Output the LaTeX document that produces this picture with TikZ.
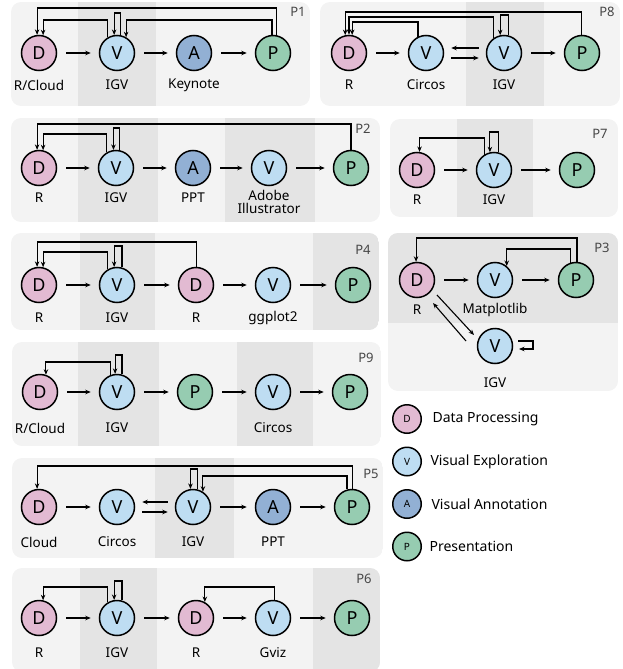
\documentclass[tikz,border=0pt]{standalone}
\usepackage{fontspec}
\setmainfont{Noto Sans}
\usetikzlibrary{arrows.meta,positioning,calc}
\definecolor{DataPink}{RGB}{226,186,210}
\definecolor{ExploreBlue}{RGB}{190,221,242}
\definecolor{AnnotBlue}{RGB}{146,176,212}
\definecolor{PresGreen}{RGB}{150,204,177}
\definecolor{PanelGray}{RGB}{243,243,243}
\definecolor{BandGray}{RGB}{228,228,228}
\definecolor{TagGray}{RGB}{70,70,70}
\tikzset{
  stage/.style={circle,draw=black,line width=1.5pt,minimum size=35pt,inner sep=0pt,font=\fontsize{18}{18}\selectfont},
  dstage/.style={stage,fill=DataPink},
  vstage/.style={stage,fill=ExploreBlue},
  astage/.style={stage,fill=AnnotBlue},
  pstage/.style={stage,fill=PresGreen},
  tool/.style={font=\fontsize{13.5}{15}\selectfont,align=center},
  tag/.style={font=\fontsize{13}{13}\selectfont,text=TagGray},
  flow/.style={-{Stealth[length=5.5pt,width=4.5pt]},line width=1.1pt,shorten <=9pt,shorten >=8pt},
  fb/.style={-{Stealth[length=5.5pt,width=4.5pt]},line width=1.1pt},
  pair/.style={fb,shorten <=7pt,shorten >=7pt},
  legstage/.style={circle,draw=black,line width=1.5pt,minimum size=28.5pt,inner sep=0pt,font=\fontsize{10}{10}\selectfont},
  legtext/.style={anchor=west,font=\fontsize{14}{16}\selectfont},
  panelbg/.style={fill=PanelGray},
  band/.style={fill=BandGray}
}
\begin{document}
\begin{tikzpicture}[x=1pt,y=-1pt]
\useasboundingbox (0,0) rectangle (623,669);

\begin{scope}
\clip[rounded corners=10] (11,2) rectangle (310,106);
\fill[panelbg] (11,2) rectangle (310,106);
\fill[band] (78,2) rectangle (156,106);
\end{scope}
\node[tag] (p1tag) at (298,12) {P1};
\node[dstage] (p1D) at (39,53) {D};
\node[vstage] (p1V) at (117,53) {V};
\node[astage] (p1A) at (194,53) {A};
\node[pstage] (p1P) at (273,53) {P};
\node[tool] (p1Dt) at (39,85) {R/Cloud};
\node[tool] (p1Vt) at (117,85) {IGV};
\node[tool] (p1At) at (194,85) {Keynote};
\draw[flow] (p1D)--(p1V);\draw[flow] (p1V)--(p1A);\draw[flow] (p1A)--(p1P);
\coordinate (p1hi) at (0,8);
\coordinate (p1self) at (0,13);
\coordinate (p1lo) at (0,20);
\draw[fb] (p1P.80) -- (p1P.80 |- p1hi) -| (p1D.96);
\draw[fb] (p1V.121) -- (p1V.121 |- p1lo) -| (p1D.77);
\draw[fb] (p1V.80) -- (p1V.80 |- p1self) -| (p1V.99);
\draw[fb] (p1P.93) -- (p1P.93 |- p1lo) -| (p1V.60);

\begin{scope}
\clip[rounded corners=10] (320,2) rectangle (620,106);
\fill[panelbg] (320,2) rectangle (620,106);
\fill[band] (466,2) rectangle (544,106);
\end{scope}
\node[tag] (p8tag) at (607,12) {P8};
\node[dstage] (p8D) at (349,53) {D};
\node[vstage] (p8Va) at (426,53) {V};
\node[vstage] (p8Vb) at (504,53) {V};
\node[pstage] (p8P) at (582,53) {P};
\node[tool] (p8Dt) at (349,85) {R};
\node[tool] (p8Vat) at (426,85) {Circos};
\node[tool] (p8Vbt) at (504,85) {IGV};
\draw[flow] (p8D)--(p8Va);\draw[flow] (p8Vb)--(p8P);
\draw[pair] ([yshift=5pt]p8Vb.west) -- ([yshift=5pt]p8Va.east);
\draw[pair] ([yshift=-5pt]p8Va.east) -- ([yshift=-5pt]p8Vb.west);
\coordinate (p8hi) at (0,12);
\coordinate (p8self) at (0,15);
\coordinate (p8mid) at (0,17);
\coordinate (p8lo) at (0,22);
\draw[fb] (p8P.93) -- (p8P.93 |- p8hi) -| (p8D.102);
\draw[fb] (p8Vb.126) -- (p8Vb.126 |- p8mid) -| (p8D.90);
\draw[fb] (p8Va.116) -- (p8Va.116 |- p8lo) -| (p8D.80);
\draw[fb] (p8Vb.77) -- (p8Vb.77 |- p8self) -| (p8Vb.102);

\begin{scope}
\clip[rounded corners=10] (11,118) rectangle (380,222);
\fill[panelbg] (11,118) rectangle (380,222);
\fill[band] (78,118) rectangle (158,222);
\fill[band] (225,118) rectangle (315,222);
\end{scope}
\node[tag] (p2tag) at (363,129) {P2};
\node[dstage] (p2D) at (39,168) {D};
\node[vstage] (p2Va) at (116,168) {V};
\node[astage] (p2A) at (193,168) {A};
\node[vstage] (p2Vb) at (269,168) {V};
\node[pstage] (p2P) at (351,168) {P};
\node[tool] (p2Dt) at (39,198) {R};
\node[tool] (p2Vat) at (116,198) {IGV};
\node[tool] (p2At) at (193,198) {PPT};
\node[tool,font=\fontsize{13.5}{13.5}\selectfont] (p2Vbt) at (269,202) {Adobe\\Illustrator};
\draw[flow] (p2D)--(p2Va);\draw[flow] (p2Va)--(p2A);\draw[flow] (p2A)--(p2Vb);\draw[flow] (p2Vb)--(p2P);
\coordinate (p2hi) at (0,124);
\coordinate (p2self) at (0,128);
\coordinate (p2lo) at (0,134);
\draw[fb] (p2P.90) -- (p2P.90 |- p2hi) -| (p2D.96);
\draw[fb] (p2Va.120) -- (p2Va.120 |- p2lo) -| (p2D.77);
\draw[fb] (p2Va.79) -- (p2Va.79 |- p2self) -| (p2Va.98);

\begin{scope}
\clip[rounded corners=10] (390,119) rectangle (618,217);
\fill[panelbg] (390,119) rectangle (618,217);
\fill[band] (457,119) rectangle (533,217);
\end{scope}
\node[tag] (p7tag) at (600,134) {P7};
\node[dstage] (p7D) at (417,170) {D};
\node[vstage] (p7V) at (494,170) {V};
\node[pstage] (p7P) at (577,170) {P};
\node[tool] (p7Dt) at (417,200) {R};
\node[tool] (p7Vt) at (494,200) {IGV};
\draw[flow] (p7D)--(p7V);\draw[flow] (p7V)--(p7P);
\coordinate (p7self) at (0,132);
\coordinate (p7lo) at (0,138);
\draw[fb] (p7V.123) -- (p7V.123 |- p7lo) -| (p7D.82);
\draw[fb] (p7V.76) -- (p7V.76 |- p7self) -| (p7V.103);

\begin{scope}
\clip[rounded corners=10] (11,233) rectangle (379,330);
\fill[panelbg] (11,233) rectangle (379,330);
\fill[band] (80,233) rectangle (155,330);
\fill[band] (313,233) rectangle (379,330);
\end{scope}
\node[tag] (p4tag) at (363,250) {P4};
\node[dstage] (p4Da) at (39,285) {D};
\node[vstage] (p4Va) at (117,285) {V};
\node[dstage] (p4Db) at (196,285) {D};
\node[vstage] (p4Vb) at (273,285) {V};
\node[pstage] (p4P) at (353,285) {P};
\node[tool] (p4Dat) at (39,318) {R};
\node[tool] (p4Vat) at (117,318) {IGV};
\node[tool] (p4Dbt) at (196,318) {R};
\node[tool] (p4Vbt) at (273,318) {ggplot2};
\draw[flow] (p4Da)--(p4Va);\draw[flow] (p4Va)--(p4Db);\draw[flow] (p4Db)--(p4Vb);\draw[flow] (p4Vb)--(p4P);
\coordinate (p4hi) at (0,242);
\coordinate (p4self) at (0,246);
\coordinate (p4lo) at (0,252);
\draw[fb] (p4Db.88) -- (p4Db.88 |- p4hi) -| (p4Da.96);
\draw[fb] (p4Va.121) -- (p4Va.121 |- p4lo) -| (p4Da.77);
\draw[fb] (p4Va.74) -- (p4Va.74 |- p4self) -| (p4Va.99);

\begin{scope}
\clip[rounded corners=10] (388,233) rectangle (618,391);
\fill[panelbg] (388,233) rectangle (618,391);
\fill[band] (388,233) rectangle (618,323);
\end{scope}
\node[tag] (p3tag) at (602,248) {P3};
\node[dstage] (p3D) at (417,280) {D};
\node[vstage] (p3Va) at (495,280) {V};
\node[pstage] (p3P) at (576,280) {P};
\node[vstage] (p3Vb) at (495,346) {V};
\node[tool] (p3Dt) at (417,310) {R};
\node[tool] (p3Vat) at (495,310) {Matplotlib};
\node[tool] (p3Vbt) at (495,383) {IGV};
\draw[flow] (p3D)--(p3Va);\draw[flow] (p3Va)--(p3P);
\coordinate (p3hi) at (0,238);
\coordinate (p3lo) at (0,249);
\draw[fb] (p3P.87) -- (p3P.87 |- p3hi) -| (p3D.93);
\draw[fb] (p3P.109) -- (p3P.109 |- p3lo) -| (p3Va.50);
\draw[fb] ([shift={(20,15)}]p3D.center) -- ([shift={(-21,-11)}]p3Vb.center);
\draw[fb] ([shift={(-29,-5)}]p3Vb.center) -- ([shift={(16,23)}]p3D.center);
\draw[fb] ([shift={(23,-5)}]p3Vb.center) -- ++(15,0) -- ++(0,8) -- ++(-14,0);

\begin{scope}
\clip[rounded corners=10] (12,342) rectangle (381,446);
\fill[panelbg] (12,342) rectangle (381,446);
\fill[band] (78,342) rectangle (159,446);
\fill[band] (237,342) rectangle (313,446);
\end{scope}
\node[tag] (p9tag) at (366,358) {P9};
\node[dstage] (p9D) at (40,392) {D};
\node[vstage] (p9Va) at (117,392) {V};
\node[pstage] (p9Pa) at (195,392) {P};
\node[vstage] (p9Vb) at (273,392) {V};
\node[pstage] (p9Pb) at (350,392) {P};
\node[tool] (p9Dt) at (40,428) {R/Cloud};
\node[tool] (p9Vat) at (117,428) {IGV};
\node[tool] (p9Vbt) at (273,428) {Circos};
\draw[flow] (p9D)--(p9Va);\draw[flow] (p9Va)--(p9Pa);\draw[flow] (p9Pa)--(p9Vb);\draw[flow] (p9Vb)--(p9Pb);
\coordinate (p9self) at (0,355);
\coordinate (p9lo) at (0,362);
\draw[fb] (p9Va.112) -- (p9Va.112 |- p9lo) -| (p9D.71);
\draw[fb] (p9Va.74) -- (p9Va.74 |- p9self) -| (p9Va.96);

\node[legstage,fill=DataPink] (legD) at (407,419) {D};
\node[legstage,fill=ExploreBlue] (legV) at (407,461.5) {V};
\node[legstage,fill=AnnotBlue] (legA) at (407,504) {A};
\node[legstage,fill=PresGreen] (legP) at (407,546.5) {P};
\node[legtext] (legDt) at (429,419) {Data Processing};
\node[legtext] (legVt) at (427,461.5) {Visual Exploration};
\node[legtext] (legAt) at (428,504) {Visual Annotation};
\node[legtext] (legPt) at (426,546.5) {Presentation};

\begin{scope}
\clip[rounded corners=10] (12,458) rectangle (383,558);
\fill[panelbg] (12,458) rectangle (383,558);
\fill[band] (155,458) rectangle (234,558);
\end{scope}
\node[tag] (p5tag) at (371,474) {P5};
\node[dstage] (p5D) at (39,507) {D};
\node[vstage] (p5Va) at (117,507) {V};
\node[vstage] (p5Vb) at (193,507) {V};
\node[astage] (p5A) at (273,507) {A};
\node[pstage] (p5P) at (352,507) {P};
\node[tool] (p5Dt) at (39,542) {Cloud};
\node[tool] (p5Vat) at (117,542) {Circos};
\node[tool] (p5Vbt) at (193,542) {IGV};
\node[tool] (p5At) at (273,542) {PPT};
\draw[flow] (p5D)--(p5Va);\draw[flow] (p5Vb)--(p5A);\draw[flow] (p5A)--(p5P);
\draw[pair] ([yshift=5pt]p5Vb.west) -- ([yshift=5pt]p5Va.east);
\draw[pair] ([yshift=-5pt]p5Va.east) -- ([yshift=-5pt]p5Vb.west);
\coordinate (p5hi) at (0,466);
\coordinate (p5self) at (0,469);
\coordinate (p5lo) at (0,476);
\draw[fb] (p5P.88) -- (p5P.88 |- p5hi) -| (p5D.96);
\draw[fb] (p5P.106) -- (p5P.106 |- p5lo) -| (p5Vb.57);
\draw[fb] (p5Vb.77) -- (p5Vb.77 |- p5self) -| (p5Vb.98);

\begin{scope}
\clip[rounded corners=10] (12,568) rectangle (380,672);
\fill[panelbg] (12,568) rectangle (380,672);
\fill[band] (80,568) rectangle (157,672);
\fill[band] (313,568) rectangle (380,672);
\end{scope}
\node[tag] (p6tag) at (364,579) {P6};
\node[dstage] (p6Da) at (39,618) {D};
\node[vstage] (p6Va) at (117,618) {V};
\node[dstage] (p6Db) at (196,618) {D};
\node[vstage] (p6Vb) at (273,618) {V};
\node[pstage] (p6P) at (352,618) {P};
\node[tool] (p6Dat) at (39,653) {R};
\node[tool] (p6Vat) at (117,653) {IGV};
\node[tool] (p6Dbt) at (196,653) {R};
\node[tool] (p6Vbt) at (273,653) {Gviz};
\draw[flow] (p6Da)--(p6Va);\draw[flow] (p6Va)--(p6Db);\draw[flow] (p6Db)--(p6Vb);\draw[flow] (p6Vb)--(p6P);
\coordinate (p6self) at (0,581);
\coordinate (p6lo) at (0,587);
\draw[fb] (p6Va.121) -- (p6Va.121 |- p6lo) -| (p6Da.77);
\draw[fb] (p6Va.74) -- (p6Va.74 |- p6self) -| (p6Va.99);
\draw[fb] (p6Vb.84) -- (p6Vb.84 |- p6lo) -| (p6Db.61);
\end{tikzpicture}
\end{document}
